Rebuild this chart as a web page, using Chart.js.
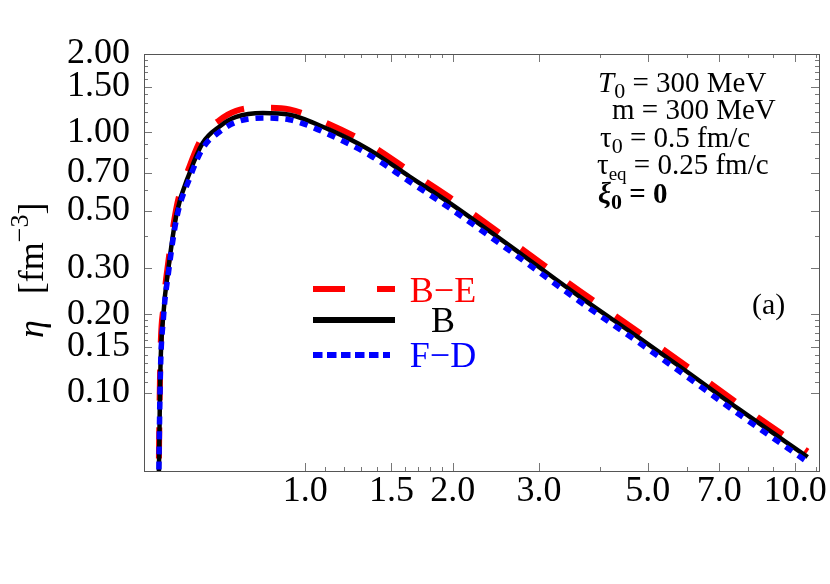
<!DOCTYPE html>
<html>
<head>
<meta charset="utf-8">
<script src="https://cdn.jsdelivr.net/npm/chart.js@4"></script>
<style>
  html, body { margin: 0; padding: 0; background: #fff; }
  #c { display: block; }
</style>
</head>
<body>
<canvas id="c" width="830" height="584"></canvas>
<script>
// ── Data ──────────────────────────────────────────────────────────────────────
const TAU    = [0.50, 0.506, 0.514, 0.526, 0.547, 0.581, 0.618, 0.669, 0.723, 0.82, 0.929, 1.12, 1.35, 1.63, 1.97, 2.74, 3.63, 4.81, 5.81, 7.7, 10.6];
const ETA_BE = [0.02, 0.125, 0.215, 0.32, 0.52, 0.74, 0.965, 1.115, 1.21, 1.245, 1.225, 1.075, 0.90, 0.712, 0.563, 0.361, 0.246, 0.170, 0.132, 0.090, 0.0594];
const ETA_B  = [0.02, 0.112, 0.202, 0.30, 0.49, 0.698, 0.911, 1.054, 1.146, 1.187, 1.169, 1.024, 0.858, 0.678, 0.536, 0.344, 0.234, 0.162, 0.126, 0.086, 0.0566];
const ETA_FD = [0.02, 0.108, 0.195, 0.288, 0.47, 0.665, 0.868, 1.005, 1.095, 1.135, 1.118, 0.98, 0.82, 0.648, 0.512, 0.329, 0.224, 0.155, 0.1205, 0.0822, 0.0541];

const X_MAJOR = [1.0, 1.5, 2.0, 3.0, 5.0, 7.0, 10.0];
const X_MINOR = [1.1, 1.2, 1.3, 1.4, 1.6, 1.7, 1.8, 1.9, 4, 6, 8, 9, 11];
const Y_MAJOR = [0.10, 0.15, 0.20, 0.30, 0.50, 0.70, 1.00, 1.50, 2.00];
const Y_MINOR = [0.11, 0.12, 0.13, 0.14, 0.16, 0.17, 0.18, 0.19, 0.4, 0.6, 0.8, 0.9, 1.1, 1.2, 1.3, 1.4, 1.6, 1.7, 1.8, 1.9];

const SERIES = [
  { label: 'B−E', data: ETA_BE, color: '#ff0000', width: 6,   dash: [31, 27] },
  { label: 'B',   data: ETA_B,  color: '#000000', width: 4.5, dash: [] },
  { label: 'F−D', data: ETA_FD, color: '#0000ff', width: 5.5, dash: [8, 7] },
];

const SERIF = "'Liberation Serif', 'Times New Roman', serif";

// ── Helpers ───────────────────────────────────────────────────────────────────
// draw a run of differently-styled text pieces left to right from (x, y baseline)
function drawRuns(ctx, x, y, runs, color) {
  ctx.textAlign = 'left';
  ctx.textBaseline = 'alphabetic';
  ctx.fillStyle = color || '#000';
  let cx = x;
  for (const r of runs) {
    ctx.font = r.font;
    ctx.fillText(r.t, cx, y + (r.dy || 0));
    cx += ctx.measureText(r.t).width + (r.gap || 0);
  }
  return cx;
}

// ── Frame + inward ticks on all four sides ────────────────────────────────────
const framePlugin = {
  id: 'frame',
  afterDraw(chart) {
    const { ctx, chartArea: a, scales: { x, y } } = chart;
    ctx.save();
    ctx.strokeStyle = '#777';
    ctx.lineWidth = 1;
    const tick = (x1, y1, x2, y2) => { ctx.beginPath(); ctx.moveTo(x1, y1); ctx.lineTo(x2, y2); ctx.stroke(); };
    X_MAJOR.concat(X_MINOR).forEach(v => {
      const px = Math.round(x.getPixelForValue(v)) + 0.5;
      const len = X_MAJOR.includes(v) ? 8 : 4;
      tick(px, a.bottom, px, a.bottom - len);
      tick(px, a.top, px, a.top + len);
    });
    Y_MAJOR.concat(Y_MINOR).forEach(v => {
      const py = Math.round(y.getPixelForValue(v)) + 0.5;
      const len = Y_MAJOR.includes(v) ? 8 : 4;
      tick(a.left, py, a.left + len, py);
      tick(a.right, py, a.right - len, py);
    });
    ctx.strokeStyle = '#555';
    ctx.strokeRect(Math.round(a.left) + 0.5, Math.round(a.top) + 0.5, Math.round(a.right - a.left), Math.round(a.bottom - a.top));
    ctx.restore();
  },
};

// ── Legend, labels and annotation text ────────────────────────────────────────
const textPlugin = {
  id: 'texts',
  afterDraw(chart) {
    const ctx = chart.ctx;
    ctx.save();

    // legend samples
    const lx0 = 313, lx1 = 395;
    const rows = [289, 320, 355];
    const legDash = [[32, 32], [], [9.5, 4.5]];
    SERIES.forEach((s, i) => {
      ctx.strokeStyle = s.color;
      ctx.lineWidth = 6;
      ctx.setLineDash(legDash[i]);
      ctx.beginPath();
      ctx.moveTo(lx0, rows[i]);
      ctx.lineTo(i === 2 ? 390 : lx1, rows[i]);
      ctx.stroke();
    });
    ctx.setLineDash([]);
    ctx.font = '36px ' + SERIF;
    ctx.textAlign = 'center';
    ctx.textBaseline = 'alphabetic';
    const labY = [302, 332, 367];
    SERIES.forEach((s, i) => {
      ctx.fillStyle = s.color;
      ctx.fillText(s.label, 443, labY[i]);
    });

    // panel tag
    ctx.fillStyle = '#000';
    ctx.textAlign = 'left';
    ctx.font = '30px ' + SERIF;
    ctx.fillText('(a)', 752, 314);

    // parameter block
    const F = '29px ' + SERIF, FI = 'italic 29px ' + SERIF, FS = '22px ' + SERIF, FSS = '19px ' + SERIF;
    drawRuns(ctx, 598, 92, [{ t: 'T', font: FI }, { t: '0', font: FS, dy: 6 }, { t: ' = 300 MeV', font: F }]);
    drawRuns(ctx, 612, 119, [{ t: 'm = 300 MeV', font: F }]);
    drawRuns(ctx, 600, 146.5, [{ t: 'τ', font: F }, { t: '0', font: FS, dy: 6 }, { t: ' = 0.5 fm/c', font: F }]);
    drawRuns(ctx, 597, 174, [{ t: 'τ', font: F }, { t: 'eq', font: FSS, dy: 6 }, { t: ' = 0.25 fm/c', font: F }]);
    const FB = 'bold 29px ' + SERIF, FBI = 'bold italic 29px ' + SERIF, FBS = 'bold 22px ' + SERIF;
    drawRuns(ctx, 598, 203, [{ t: 'ξ', font: FBI }, { t: '0', font: FBS, dy: 6 }, { t: ' = 0', font: FB }]);

    // y axis title, rotated
    ctx.translate(43, 338);
    ctx.rotate(-Math.PI / 2);
    drawRuns(ctx, 0, 0, [
      { t: 'η', font: 'italic 36px ' + SERIF, gap: 26 },
      { t: '[fm', font: '36px ' + SERIF },
      { t: '−3', font: '26px ' + SERIF, dy: -15 },
      { t: ']', font: '36px ' + SERIF },
    ]);
    ctx.restore();
  },
};

// ── Chart ─────────────────────────────────────────────────────────────────────
new Chart(document.getElementById('c'), {
  type: 'line',
  data: {
    datasets: SERIES.map((s, i) => ({
      label: s.label,
      data: TAU.map((t, k) => ({ x: t, y: s.data[k] })),
      borderColor: s.color,
      borderWidth: s.width,
      borderDash: s.dash,
      pointRadius: 0,
      fill: false,
      cubicInterpolationMode: 'monotone',
      clip: 0,
      order: 3 - i,
    })),
  },
  options: {
    responsive: false,
    animation: false,
    layout: { padding: { left: 0, top: 54, right: 11, bottom: 0 } },
    plugins: { legend: { display: false }, tooltip: { enabled: false } },
    scales: {
      x: {
        type: 'logarithmic',
        min: 0.469, max: 11.18,
        grid: { display: false },
        border: { display: false },
        afterBuildTicks: s => { s.ticks = X_MAJOR.map(v => ({ value: v })); },
        afterFit: s => { s.height = 113; s.paddingLeft = 0; s.paddingRight = 0; },
        ticks: {
          autoSkip: false, maxRotation: 0, padding: -9,
          color: '#000', font: { family: SERIF, size: 36 },
          callback: v => Number(v).toFixed(1),
        },
      },
      y: {
        type: 'logarithmic',
        min: 0.05, max: 2.0,
        grid: { display: false },
        border: { display: false },
        afterBuildTicks: s => { s.ticks = Y_MAJOR.map(v => ({ value: v })); },
        afterFit: s => { s.width = 144; s.paddingTop = 0; s.paddingBottom = 0; },
        ticks: {
          autoSkip: false, padding: 6,
          color: '#000', font: { family: SERIF, size: 36 },
          callback: v => Number(v).toFixed(2),
        },
      },
    },
  },
  plugins: [framePlugin, textPlugin],
});
</script>
</body>
</html>
